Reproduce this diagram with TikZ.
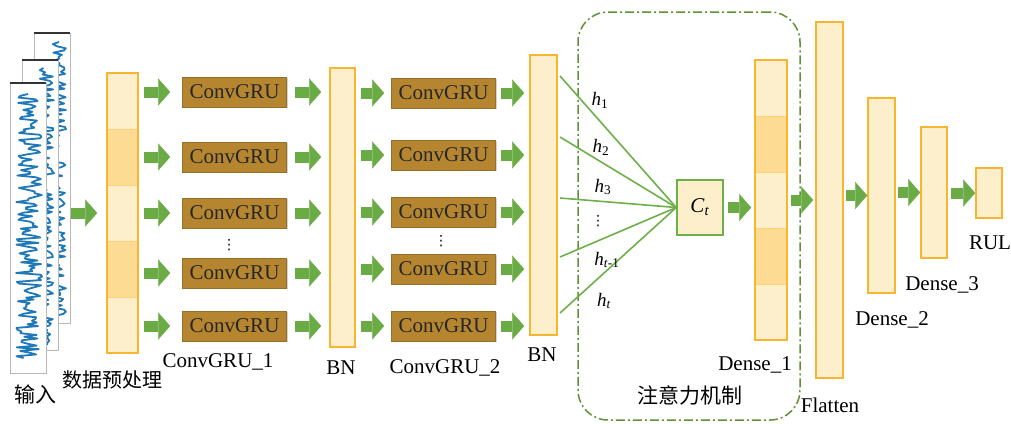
\documentclass[tikz,border=0pt]{standalone}
\usepackage{fontspec}
\setmainfont{Liberation Serif}
\newfontfamily\cjk{Noto Sans CJK SC}
\newfontfamily\dv{DejaVu Sans}
\usetikzlibrary{arrows.meta,shadows}
\definecolor{colb}{HTML}{F8B530}
\definecolor{lite}{HTML}{FDEFCB}
\definecolor{dark}{HTML}{FDDB93}
\definecolor{cline}{HTML}{FBD27A}
\definecolor{convf}{HTML}{B5862F}
\definecolor{convd}{HTML}{95702A}
\definecolor{garr}{HTML}{6AAB46}
\definecolor{gline}{HTML}{6DB04A}
\definecolor{gdash}{HTML}{5F9138}
\definecolor{sig}{HTML}{1F78B8}
\begin{document}
\begin{tikzpicture}[x=1pt,y=-1pt,
  lbl/.style={font=\fontsize{21}{24}\selectfont, inner sep=0},
  cn/.style={font=\cjk\fontsize{20}{24}\selectfont, inner sep=0},
  conv/.style={fill=convf, draw=convd, line width=0.6pt, minimum width=104pt, minimum height=30pt, inner sep=0, font=\fontsize{21}{24}\selectfont, text=black!85, drop shadow={shadow xshift=1.2pt, shadow yshift=-1.2pt, opacity=0.35}},
  cellL/.style={fill=lite, draw=cline, line width=0.8pt, inner sep=0, minimum width=31pt, minimum height=56pt},
  cellD/.style={cellL, fill=dark},
  frame/.style={draw=colb, line width=1.6pt, inner sep=0},
  col/.style={frame, fill=lite},
  garrow/.style={draw=garr, line width=11pt, -{Triangle[length=12pt,width=27pt,line width=0.1pt]}},
  hl/.style={draw=gline, line width=1.6pt},
  hlab/.style={font=\fontsize{19}{21}\selectfont, inner sep=0},
  panel/.style={fill=white, draw=gray!55, line width=0.8pt, minimum width=36pt, minimum height=290pt, inner sep=0},
  topedge/.style={draw=black!80, line width=2pt},
  sigline/.style={draw=sig, line width=1.8pt, line join=round},
  dots/.style={font=\dv\fontsize{14}{16}\selectfont, inner sep=0}
]
\useasboundingbox (0,0) rectangle (1011,423);
\pgfmathsetseed{7}
% ---------- input panels ----------
\node[panel] (p3) at (52,178) {};
\draw[topedge] (p3.north west) -- (p3.north east);
\draw[sigline] plot[domain=42:316, samples=130] ({57+9*rand}, \x);
\node[panel] (p2) at (40,205) {};
\draw[topedge] (p2.north west) -- (p2.north east);
\draw[sigline] plot[domain=68:345, samples=130] ({45+9*rand}, \x);
\node[panel] (p1) at (28,228) {};
\draw[topedge] (p1.north west) -- (p1.north east);
\draw[sigline] plot[domain=94:358, samples=150] ({29+13*rand}, \x);
% ---------- attention box ----------
\node[draw=gdash, line width=1.5pt, dash pattern=on 9pt off 3pt on 2pt off 3pt, rounded corners=30pt, minimum width=222pt, minimum height=408pt, inner sep=0] (att) at (689,216) {};
% ---------- preprocessing column ----------
\node[cellL] (pp1) at (122.5,101) {};
\node[cellD] (pp2) at (122.5,157) {};
\node[cellL] (pp3) at (122.5,213) {};
\node[cellD] (pp4) at (122.5,269) {};
\node[cellL] (pp5) at (122.5,325) {};
\node[frame, minimum width=31pt, minimum height=280pt] (pp) at (122.5,213) {};
% ---------- ConvGRU layers ----------
\node[conv] (c11) at (234.5,92) {ConvGRU};
\node[conv] (c12) at (234.5,157) {ConvGRU};
\node[conv] (c13) at (234.5,213) {ConvGRU};
\node[conv] (c14) at (234.5,273) {ConvGRU};
\node[conv] (c15) at (234.5,326) {ConvGRU};
\node[dots] (d1dots) at (229,245) {⋮};
\node[col, minimum width=25pt, minimum height=279pt] (bn1) at (342.5,207.5) {};
\node[conv] (c21) at (443.5,93) {ConvGRU};
\node[conv] (c22) at (443.5,155) {ConvGRU};
\node[conv] (c23) at (443.5,212) {ConvGRU};
\node[conv] (c24) at (443.5,269) {ConvGRU};
\node[conv] (c25) at (443.5,326) {ConvGRU};
\node[dots] (d2dots) at (441,241) {⋮};
\node[col, minimum width=27pt, minimum height=280pt] (bn2) at (543.5,195) {};
% ---------- attention ----------
\node[fill=lite, draw=gline, line width=1.6pt, minimum width=46pt, minimum height=55pt, inner sep=0, font=\fontsize{21}{23}\selectfont] (ct) at (700,207.5) {\textit{C}\textsubscript{\textit{t}}};
\coordinate (s1) at (560,76);
\coordinate (s2) at (560,137);
\coordinate (s3) at (560,198);
\coordinate (s4) at (560,257);
\coordinate (s5) at (560,313);
\foreach \k in {1,...,5} {\draw[hl] (s\k) -- (ct.west);}
\node[hlab] (h1) at (600,100) {\textit{h}\textsubscript{1}};
\node[hlab] (h2) at (601,147) {\textit{h}\textsubscript{2}};
\node[hlab] (h3) at (603,187) {\textit{h}\textsubscript{3}};
\node[dots] (hdots) at (598,221) {⋮};
\node[hlab] (h4) at (607,260) {\textit{h}\textsubscript{\textit{t}-1}};
\node[hlab] (h5) at (604,301) {\textit{h}\textsubscript{\textit{t}}};
% ---------- Dense_1 ----------
\node[cellL, minimum width=32pt] (q1) at (771,88) {};
\node[cellD, minimum width=32pt] (q2) at (771,144) {};
\node[cellL, minimum width=32pt] (q3) at (771,200) {};
\node[cellD, minimum width=32pt] (q4) at (771,256) {};
\node[cellL, minimum width=32pt] (q5) at (771,312) {};
\node[frame, minimum width=32pt, minimum height=280pt] (d1) at (771,200) {};
% ---------- dense layers ----------
\node[col, minimum width=27pt, minimum height=356pt] (fl) at (829.5,200) {};
\node[col, minimum width=27pt, minimum height=195pt] (d2) at (881.5,195.5) {};
\node[col, minimum width=26pt, minimum height=131pt] (d3) at (934,192.5) {};
\node[col, minimum width=26pt, minimum height=50pt] (rul) at (989,193) {};
% ---------- arrows ----------
\draw[garrow] ([xshift=1pt]p3.east |- pp.west) -- ([xshift=-9pt]pp.west);
\foreach \k in {1,...,5} {
  \draw[garrow] ([xshift=5pt]pp.east |- c1\k.west) -- ([xshift=-12pt]c1\k.west);
  \draw[garrow] ([xshift=8pt]c1\k.east) -- ([xshift=-8pt]bn1.west |- c1\k.east);
  \draw[garrow] ([xshift=5pt]bn1.east |- c2\k.west) -- ([xshift=-7pt]c2\k.west);
  \draw[garrow] ([xshift=5pt]c2\k.east) -- ([xshift=-5pt]bn2.west |- c2\k.east);
}
\draw[garrow] ([xshift=4pt]ct.east) -- ([xshift=-3pt]d1.west |- ct.east);
\draw[garrow] ([xshift=3pt]d1.east |- fl.west) -- ([xshift=-2pt]fl.west);
\draw[garrow] ([xshift=2pt]fl.east |- d2.west) -- (d2.west);
\draw[garrow] ([xshift=2pt]d2.east |- d3.west) -- (d3.west);
\draw[garrow] ([xshift=3pt]d3.east |- rul.west) -- (rul.west);
% ---------- labels ----------
\node[cn, font=\cjk\fontsize{21}{24}\selectfont] (lin) at (35,394) {输入};
\node[cn] (lpp) at (112,380) {数据预处理};
\node[lbl] (lc1) at (218,362) {ConvGRU\_1};
\node[lbl] (lb1) at (341,368) {BN};
\node[lbl] (lc2) at (445,368) {ConvGRU\_2};
\node[lbl] (lb2) at (542,355) {BN};
\node[lbl] (ld1) at (755,365) {Dense\_1};
\node[cn, font=\cjk\fontsize{21}{24}\selectfont] (latt) at (690,395) {注意力机制};
\node[lbl] (lfl) at (830,405) {Flatten};
\node[lbl] (ld2) at (892,320) {Dense\_2};
\node[lbl] (ld3) at (942,285) {Dense\_3};
\node[lbl] (lrul) at (990,243) {RUL};
\end{tikzpicture}
\end{document}
